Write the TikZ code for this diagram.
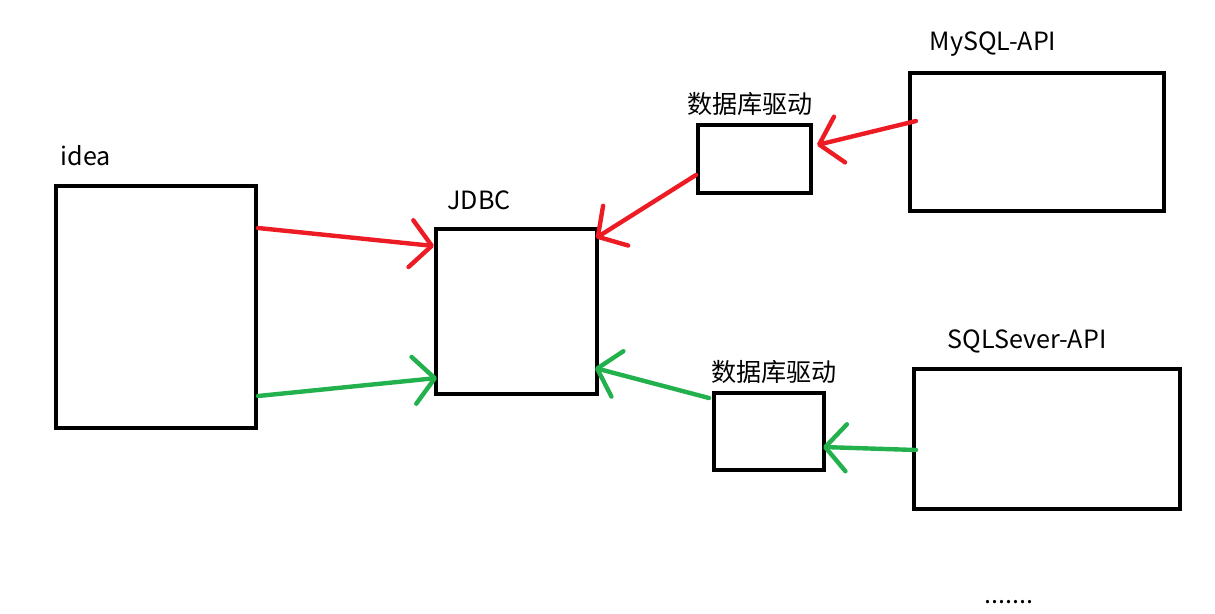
\documentclass[tikz,border=0pt]{standalone}
\usepackage{fontspec}
\setmainfont{Noto Sans CJK SC}
\usetikzlibrary{calc,arrows.meta}

\definecolor{pRed}{RGB}{237,28,36}
\definecolor{pGreen}{RGB}{34,177,76}

\tikzset{
    box/.style={draw, line width=2.3pt, inner sep=0pt},
    lbl/.style={font=\fontsize{14.3}{17}\selectfont, inner sep=0pt},
    redarr/.style={pRed, line width=2.5pt, line cap=round, -{Straight Barb[round,length=0.42cm,width=0.94cm]}},
    greenarr/.style={pGreen, line width=2.5pt, line cap=round, -{Straight Barb[round,length=0.42cm,width=0.94cm]}}
}

\begin{document}
\begin{tikzpicture}[x=0.02cm, y=-0.02cm]
    \useasboundingbox (0,0) rectangle (1215,613);

    % 枠の定義
    \node[box, minimum width=4cm,    minimum height=4.84cm] (idea)   at (156,307)   {};
    \node[box, minimum width=3.22cm, minimum height=3.3cm]  (jdbc)   at (516.5,311.5) {};
    \node[box, minimum width=2.26cm, minimum height=1.36cm] (drvA)   at (754.5,159) {};
    \node[box, minimum width=5.08cm, minimum height=2.76cm] (mysql)  at (1037,142)  {};
    \node[box, minimum width=2.2cm,  minimum height=1.54cm] (drvB)   at (769,431.5) {};
    \node[box, minimum width=5.32cm, minimum height=2.8cm]  (sqlsrv) at (1047,439)  {};

    % ラベル
    \node[lbl] (ideaText)   at (86,156)   {idea};
    \node[lbl] (jdbcText)   at (479,200)  {JDBC};
    \node[lbl] (drvAText)   at (750,104)  {数据库驱动};
    \node[lbl] (mysqlText)  at (993,44)   {MySQL-API};
    \node[lbl] (drvBText)   at (774,372)  {数据库驱动};
    \node[lbl] (sqlsrvText) at (1027,341) {SQLSever-API};
    \node[lbl] (moreText)   at (1009,602) {.......};

    % 矢印
    \draw[redarr]   ($(idea.east)+(0,-79)$)   -- ($(jdbc.west)+(0,-65.5)$);
    \draw[greenarr] ($(idea.east)+(0,89)$)    -- ($(jdbc.west)+(3,66.5)$);
    \draw[redarr]   ($(drvA.west)+(0,16)$)    -- ($(jdbc.east)+(-3,-73.5)$);
    \draw[redarr]   ($(mysql.west)+(8,-21)$)  -- ($(drvA.east)+(4,-14)$);
    \draw[greenarr] ($(drvB.west)+(-3,-33.5)$) -- ($(jdbc.east)+(-4,56.5)$);
    \draw[greenarr] ($(sqlsrv.west)+(4,11)$)  -- ($(drvB.east)+(-3,15.5)$);

\end{tikzpicture}
\end{document}
